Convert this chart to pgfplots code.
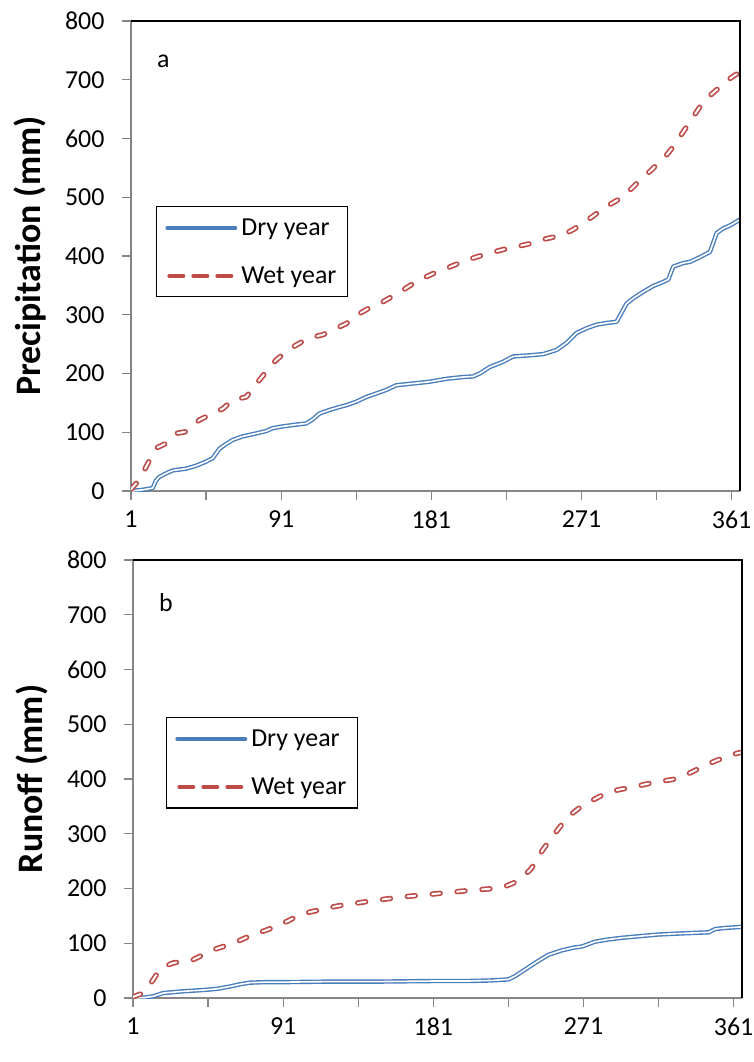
\documentclass[border=0pt]{standalone}
\usepackage{pgfplots}
\usepackage{pgfplotstable}
\pgfplotsset{compat=1.18}
\usepackage{fontspec}
\setmainfont{Carlito}
\definecolor{dryblue}{HTML}{4A7EBB}
\definecolor{wetred}{HTML}{BE4B48}
\definecolor{axgray}{HTML}{868686}
\pgfplotstableread{
x y
1 0
8 2
14 5
16 18
18 24
22 30
26 35
34 38
40 43
46 50
50 56
54 72
58 80
62 87
68 93
76 98
82 102
86 107
92 110
100 113
106 115
110 122
114 132
120 138
126 143
130 146
136 152
142 160
148 166
154 172
160 180
170 183
180 186
190 191
200 194
206 195
210 200
216 211
224 220
230 229
240 231
248 233
256 240
262 252
268 269
274 277
280 283
286 286
292 288
298 319
302 328
308 339
314 349
320 356
323 360
326 382
332 388
336 390
342 398
348 407
352 439
356 447
360 452
366 462
}\precdry
\pgfplotstableread{
x y
1 3
6 19
10 41
14 62
16 73
22 81
28 98
34 101
42 121
50 132
56 140
62 155
70 160
78 189
84 210
88 223
94 237
98 245
104 255
110 262
116 266
122 274
130 285
138 302
144 312
150 319
152 322
158 332
164 342
170 353
176 362
182 370
190 379
196 386
202 393
210 400
216 405
224 411
232 416
240 421
246 427
254 432
260 436
266 445
272 456
278 468
284 481
290 491
296 501
300 512
306 529
312 544
317 558
322 572
326 586
330 603
334 620
338 637
342 654
346 668
352 683
358 698
363 708
366 712
}\precwet
\pgfplotstableread{
x y
1 0
8 1
13 3
19 9
30 12
45 15
52 17
59 21
65 25
71 28
80 29
91 29
120 30
149 30
180 31
201 31
215 32
226 34
230 40
236 52
243 66
250 79
258 87
265 92
270 94
278 103
286 107
294 110
305 113
316 116
330 118
346 120
350 126
356 128
366 130
}\rundry
\pgfplotstableread{
x y
1 2
7 9
10 20
13 33
17 52
21 59
25 64
31 67
37 70
43 79
49 88
55 94
61 100
67 108
73 116
80 123
87 131
94 141
101 152
107 157
113 161
120 166
127 170
134 173
141 176
153 181
167 186
181 190
201 196
217 200
225 205
229 210
234 220
239 234
243 250
246 268
250 285
254 301
258 317
262 332
268 346
273 356
280 367
286 376
293 381
300 385
312 393
326 400
332 407
338 416
344 425
350 433
356 440
363 447
366 449
}\runwet
\pgfplotsset{
  mystyle/.style={
    scale only axis, width=609bp,
    xmin=1, xmax=366, ymin=0, ymax=800,
    axis x line*=bottom, axis y line*=left,
    axis line style={draw=axgray, line width=1.2bp, -},
    xtick={1,46,91,136,181,226,271,316,361},
    xticklabels={1,,91,,181,,271,,361},
    ytick={0,100,...,800},
    tick style={draw=axgray, line width=1.2bp},
    major tick length=9bp,
    tick align=outside,
    tick label style={font=\fontsize{26}{31}\selectfont},
    xticklabel style={yshift=-7bp},
    yticklabel style={xshift=-14bp},
    /pgf/number format/assume math mode=true,
    ylabel style={font=\fontsize{36}{42}\selectfont\bfseries, at={(axis description cs:-0.166,0.5)}, anchor=center},
    legend cell align=left,
    legend style={draw=black, line width=1.2bp, font=\fontsize{26}{31}\selectfont, anchor=north west, row sep=26bp, inner xsep=9bp, inner ysep=10bp},
    extra description/.code={\draw[black, line width=1.2bp] (rel axis cs:0,1) -- (rel axis cs:1,1) -- (rel axis cs:1,0);},
  },
  dryo/.style={draw=dryblue, line width=4.4bp, line join=round, mark=none, forget plot},
  dryi/.style={draw=white, line width=1.6bp, line join=round, mark=none, forget plot},
  weto/.style={draw=wetred, line width=5.4bp, dash pattern=on 8bp off 17bp, line cap=round, line join=round, mark=none, forget plot},
  weti/.style={draw=white, line width=2bp, dash pattern=on 8bp off 17bp, line cap=round, line join=round, mark=none, forget plot},
}
\begin{document}
\begin{tikzpicture}
\path[use as bounding box] (0,0) rectangle (754bp,-1062bp);
\begin{axis}[mystyle, height=470bp, at={(131bp,-491bp)}, anchor=south west,
  ylabel={Precipitation (mm)},
  legend style={at={(axis description cs:0.0406,0.6064)}}]
\addlegendimage{legend image code/.code={\draw[dryblue, line width=4bp, line cap=round] (0bp,0bp) -- (68bp,0bp);}}
\addlegendentry{Dry year}
\addlegendimage{legend image code/.code={\draw[wetred, line width=4bp, line cap=round, dash pattern=on 14bp off 10bp] (2bp,0bp) -- (70bp,0bp);}}
\addlegendentry{Wet year}
\addplot[dryo] table {\precdry};
\addplot[dryi] table {\precdry};
\addplot[weto] table {\precwet};
\addplot[weti] table {\precwet};
\node[font=\fontsize{26}{31}\selectfont] at (rel axis cs:0.053,0.915) {a};
\end{axis}
\begin{axis}[mystyle, height=438bp, at={(133bp,-998bp)}, anchor=south west,
  ylabel={Runoff (mm)},
  legend style={at={(axis description cs:0.0537,0.641)}}]
\addlegendimage{legend image code/.code={\draw[dryblue, line width=4bp, line cap=round] (0bp,0bp) -- (68bp,0bp);}}
\addlegendentry{Dry year}
\addlegendimage{legend image code/.code={\draw[wetred, line width=4bp, line cap=round, dash pattern=on 14bp off 10bp] (2bp,0bp) -- (70bp,0bp);}}
\addlegendentry{Wet year}
\addplot[dryo] table {\rundry};
\addplot[dryi] table {\rundry};
\addplot[weto] table {\runwet};
\addplot[weti] table {\runwet};
\node[font=\fontsize{26}{31}\selectfont] at (rel axis cs:0.054,0.902) {b};
\end{axis}
\end{tikzpicture}
\end{document}
